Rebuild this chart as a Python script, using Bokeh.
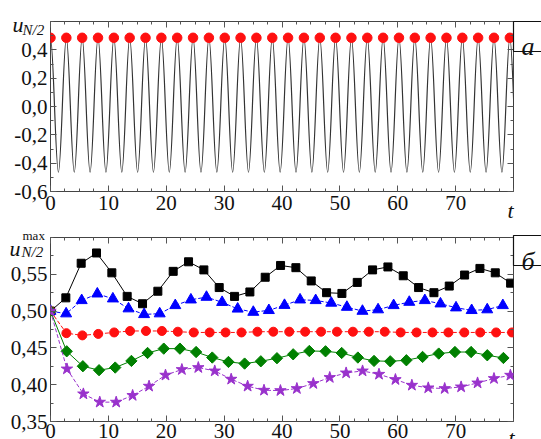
import math
from bokeh.plotting import figure
from bokeh.layouts import column
from bokeh.models import FixedTicker, CustomJSTickFormatter, LinearAxis, GridBox, Range1d
from bokeh.core.properties import value
from bokeh.embed import file_html
from bokeh.resources import INLINE

# ---------------- data: panel "а" (u_{N/2}(t)) ----------------
peak_t = [0.0, 2.74, 5.47, 8.21, 10.95, 13.68, 16.42, 19.16, 21.89, 24.63,
          27.37, 30.11, 32.84, 35.58, 38.32, 41.05, 43.79, 46.53, 49.26, 52.0,
          54.74, 57.47, 60.21, 62.95, 65.68, 68.42, 71.16, 73.89, 76.63, 79.37]
peak_u = [0.485, 0.485, 0.485, 0.485, 0.485, 0.485, 0.485, 0.485, 0.485, 0.485,
          0.485, 0.485, 0.485, 0.485, 0.485, 0.485, 0.485, 0.485, 0.485, 0.485,
          0.485, 0.485, 0.485, 0.485, 0.485, 0.485, 0.485, 0.485, 0.485, 0.485]
trough_t = [1.37, 4.11, 6.84, 9.58, 12.32, 15.05, 17.79, 20.53, 23.26, 26.0,
            28.74, 31.47, 34.21, 36.95, 39.68, 42.42, 45.16, 47.89, 50.63, 53.37,
            56.11, 58.84, 61.58, 64.32, 67.05, 69.79, 72.53, 75.26, 78.0, 80.74]
trough_u = [-0.463, -0.463, -0.463, -0.463, -0.463, -0.463, -0.463, -0.463, -0.463, -0.463,
            -0.463, -0.463, -0.463, -0.463, -0.463, -0.463, -0.463, -0.463, -0.463, -0.463,
            -0.463, -0.463, -0.463, -0.463, -0.463, -0.463, -0.463, -0.463, -0.463, -0.463]

# ---------------- data: panel "б" (u_{N/2}^max(t)) ----------------
black_t = [0.0, 2.65, 5.3, 7.95, 10.6, 13.25, 15.9, 18.55, 21.2, 23.85, 26.5,
           29.15, 31.8, 34.45, 37.1, 39.75, 42.4, 45.05, 47.7, 50.35, 53.0,
           55.65, 58.3, 60.95, 63.6, 66.25, 68.9, 71.55, 74.2, 76.85, 79.5]
black_u = [0.500, 0.518, 0.565, 0.579, 0.552, 0.520, 0.510, 0.527, 0.554, 0.567, 0.556,
           0.532, 0.520, 0.526, 0.546, 0.562, 0.559, 0.541, 0.525, 0.524, 0.539,
           0.556, 0.560, 0.548, 0.532, 0.525, 0.534, 0.549, 0.558, 0.552, 0.538]

blue_t = [0.0, 2.7, 5.39, 8.09, 10.78, 13.48, 16.17, 18.87, 21.56, 24.26,
          26.95, 29.65, 32.34, 35.04, 37.73, 40.43, 43.12, 45.82, 48.51, 51.21,
          53.9, 56.6, 59.29, 61.99, 64.68, 67.38, 70.07, 72.77, 75.46, 78.16]
blue_u = [0.500, 0.4965, 0.5145, 0.5235, 0.5168, 0.5033, 0.4955, 0.4965, 0.5077, 0.5154,
          0.519, 0.512, 0.503, 0.4986, 0.501, 0.508, 0.5154, 0.5145, 0.511, 0.5054,
          0.500, 0.502, 0.5077, 0.5122, 0.5145, 0.510, 0.5046, 0.501, 0.502, 0.5077]

red_t = [0.0, 2.75, 5.5, 8.25, 11.0, 13.75, 16.5, 19.25, 22.0, 24.75,
         27.5, 30.25, 33.0, 35.75, 38.5, 41.25, 44.0, 46.75, 49.5, 52.25,
         55.0, 57.75, 60.5, 63.25, 66.0, 68.75, 71.5, 74.25, 77.0, 79.75]
red_u = [0.500, 0.470, 0.467, 0.469, 0.471, 0.473, 0.473, 0.473, 0.472, 0.471,
         0.471, 0.471, 0.471, 0.472, 0.472, 0.472, 0.472, 0.472, 0.472, 0.472,
         0.472, 0.472, 0.471, 0.471, 0.471, 0.471, 0.471, 0.471, 0.471, 0.471]

green_t = [0.0, 2.8, 5.59, 8.39, 11.18, 13.98, 16.77, 19.57, 22.36, 25.16,
           27.95, 30.75, 33.54, 36.34, 39.13, 41.93, 44.72, 47.52, 50.31, 53.11,
           55.9, 58.7, 61.49, 64.29, 67.08, 69.88, 72.67, 75.47, 78.26]
green_u = [0.500, 0.4454, 0.4251, 0.4197, 0.4233, 0.4323, 0.4431, 0.449, 0.449, 0.4444,
           0.4369, 0.4309, 0.4287, 0.4318, 0.436, 0.4413, 0.4458, 0.4454, 0.4431, 0.4369,
           0.4323, 0.4318, 0.4332, 0.4377, 0.4423, 0.4444, 0.4444, 0.440, 0.4363]

purple_t = [0.0, 2.84, 5.68, 8.51, 11.35, 14.19, 17.03, 19.87, 22.7, 25.54,
            28.38, 31.22, 34.06, 36.89, 39.73, 42.57, 45.41, 48.25, 51.08, 53.92,
            56.76, 59.6, 62.44, 65.27, 68.11, 70.95, 73.79, 76.63, 79.46]
purple_u = [0.500, 0.4214, 0.3875, 0.3763, 0.3763, 0.3854, 0.398, 0.413, 0.4206, 0.4233,
            0.4187, 0.4075, 0.398, 0.3925, 0.392, 0.3948, 0.4016, 0.4098, 0.416, 0.4187,
            0.4142, 0.407, 0.3993, 0.3957, 0.3948, 0.397, 0.4024, 0.4084, 0.4129]

# ---------------- ticks ----------------
x_major = [0, 10, 20, 30, 40, 50, 60, 70]
x_minor = [0, 2.5, 5, 7.5, 10, 12.5, 15, 17.5, 20, 22.5, 25, 27.5, 30, 32.5, 35, 37.5,
           40, 42.5, 45, 47.5, 50, 52.5, 55, 57.5, 60, 62.5, 65, 67.5, 70, 72.5, 75, 77.5, 80]
y1_major = [-0.6, -0.4, -0.2, 0.0, 0.2, 0.4]
y1_minor = [-0.6, -0.5, -0.4, -0.3, -0.2, -0.1, 0.0, 0.1, 0.2, 0.3, 0.4, 0.5, 0.6]
y2_major = [0.35, 0.40, 0.45, 0.50, 0.55]
y2_minor = [0.35, 0.375, 0.40, 0.425, 0.45, 0.475, 0.50, 0.525, 0.55, 0.575, 0.60]

# ---------------- texts ----------------
panel_letters = ["а", "б"]
axis_name = "u"
axis_sub = "N/2"
axis_sup = "max"
time_name = "t"

SERIF = "Liberation Serif"
TICK_COLOR = "#555555"
FRAME_COLOR = "#444444"
TEXT_COLOR = "#111111"

EMPTY_FMT = CustomJSTickFormatter(code="return '';")


def style_axis(ax, show_labels, fmt=None, standoff=4):
    ax.axis_line_color = None
    ax.major_tick_in = 6
    ax.major_tick_out = 0
    ax.minor_tick_in = 3
    ax.minor_tick_out = 0
    ax.major_tick_line_color = TICK_COLOR
    ax.minor_tick_line_color = TICK_COLOR
    ax.major_label_text_font = SERIF
    if show_labels:
        ax.major_label_text_font_size = "21px"
        ax.major_label_text_color = TEXT_COLOR
        ax.major_label_standoff = standoff
        if fmt is not None:
            ax.formatter = fmt
    else:
        # mirrored tick marks only: no tick labels
        ax.formatter = EMPTY_FMT
        ax.major_label_text_font_size = "1px"
        ax.major_label_standoff = 0


def make_fig(height, top, bottom, y_range, y_major, y_minor, digits, xstand):
    p = figure(width=541, height=height, x_range=(0, 80), y_range=y_range,
               output_backend="svg", toolbar_location=None,
               min_border_left=50, min_border_right=28,
               min_border_top=top, min_border_bottom=bottom)
    p.background_fill_color = "white"
    p.border_fill_color = "white"
    p.outline_line_color = FRAME_COLOR
    p.outline_line_width = 1
    p.xgrid.visible = False
    p.ygrid.visible = False
    xt = FixedTicker(ticks=x_major, minor_ticks=x_minor)
    yt = FixedTicker(ticks=y_major, minor_ticks=y_minor)
    p.xaxis.ticker = xt
    p.yaxis.ticker = yt
    style_axis(p.xaxis[0], True, standoff=xstand)
    yfmt = CustomJSTickFormatter(code="return tick.toFixed(%d).replace('.', ',');" % digits)
    style_axis(p.yaxis[0], True, fmt=yfmt, standoff=3)
    ax_top = LinearAxis(ticker=xt)
    style_axis(ax_top, False)
    p.add_layout(ax_top, "above")
    ax_right = LinearAxis(ticker=yt)
    style_axis(ax_right, False)
    p.add_layout(ax_right, "right")
    return p


# ---------------- panel a ----------------
p1 = make_fig(222, 21, 31, (-0.6, 0.6), y1_major, y1_minor, 1, 4)

ext_t, ext_u = [], []
for a, b, c, d in zip(peak_t, peak_u, trough_t, trough_u):
    ext_t += [a, c]
    ext_u += [b, d]
k = (math.pi - 2) / math.pi
x0 = ext_t[:-1]
x1 = ext_t[1:]
y0 = ext_u[:-1]
y1 = ext_u[1:]
cx0 = [a + k * (b - a) for a, b in zip(x0, x1)]
cx1 = [b - k * (b - a) for a, b in zip(x0, x1)]
p1.bezier(x0=x0, y0=y0, x1=x1, y1=y1, cx0=cx0, cy0=y0, cx1=cx1, cy1=y1,
          line_color="#333333", line_width=1.2)
p1.scatter(peak_t, peak_u, marker="circle", size=9.5, fill_color="#ff1010",
           line_color="#ff1010")

# ---------------- panel б ----------------
p2 = make_fig(230, 15, 31, (0.35, 0.60), y2_major, y2_minor, 2, 2)

series = [
    (black_t, black_u, "#000000", "solid", "square", 8, 0.0),
    (blue_t, blue_u, "#0000ff", "4 2", "triangle", 11, 0.0),
    (red_t, red_u, "#ff1010", "4 2", "circle", 9, 0.0),
    (green_t, green_u, "#008000", "solid", "square", 8, math.pi / 4),
    (purple_t, purple_u, "#9932cc", "4 2", "star", 12, 0.0),
]
for t, u, col, dash, mk, sz, ang in series:
    p2.line(t, u, line_color=col, line_width=1, line_dash=dash)
    p2.scatter(t, u, marker=mk, size=sz, angle=ang, fill_color=col, line_color=col)

stack = column(p1, p2, width=541, height=439, styles={"overflow": "hidden"})

# ---------------- overlay for the texts outside the plot frames (pixel space) ----------------
ov = figure(width=541, height=439, x_range=Range1d(0, 541), y_range=Range1d(439, 0),
            output_backend="svg", toolbar_location=None, min_border=0,
            x_axis_type=None, y_axis_type=None)
ov.background_fill_alpha = 0
ov.border_fill_alpha = 0
ov.outline_line_color = None
ov.xgrid.visible = False
ov.ygrid.visible = False


def put(x, y, txt, size, style="italic", align="left"):
    ov.text(x=[x], y=[y], text=[txt], text_font=value(SERIF), text_font_size=size,
            text_font_style=style, text_color=TEXT_COLOR, text_align=align,
            text_baseline="alphabetic")


# panel letters in boxes
ov.quad(left=[513, 513], right=[548, 548], top=[21, 235], bottom=[51, 265],
        fill_color="white", line_color=TEXT_COLOR, line_width=1.2)
put(527.5, 45.5, panel_letters[0], "26px", align="center")
put(527.5, 260.5, panel_letters[1], "26px", align="center")
# axis names
put(12, 23.5, axis_name, "22px")
put(22, 29.5, axis_sub, "15px")
put(9, 248, axis_name, "22px")
put(22, 234.5, axis_sup, "13px", style="normal")
put(21, 251.5, axis_sub, "15px")
put(510, 210, time_name, "22px", align="center")
put(511, 437, time_name, "22px", align="center")

root = GridBox(children=[(stack, 0, 0), (ov, 0, 0)], width=541, height=439)

open("out.html", "w").write(file_html(root, INLINE))
